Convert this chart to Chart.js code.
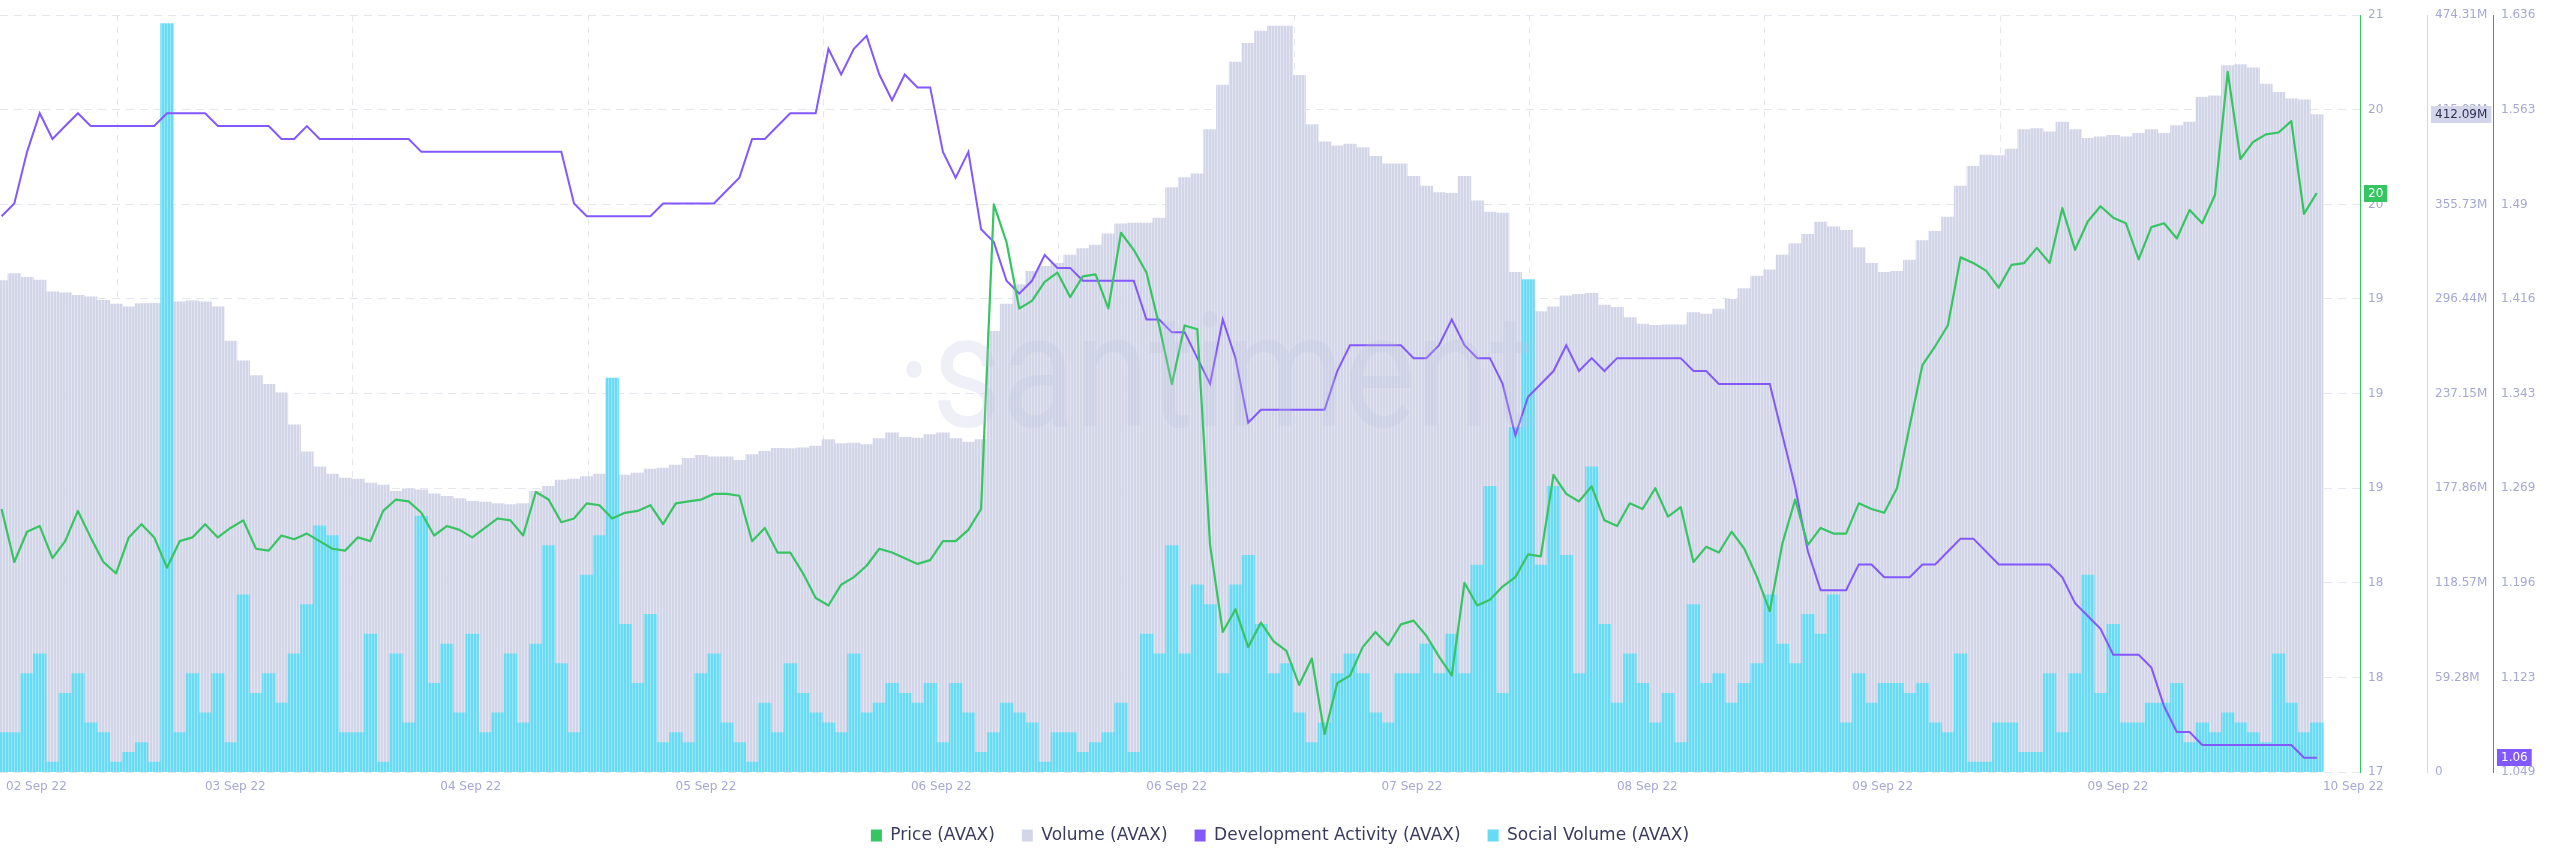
<!DOCTYPE html>
<html>
<head>
<meta charset="utf-8">
<script src="https://cdn.jsdelivr.net/npm/chart.js@4.4.1/dist/chart.umd.min.js"></script>
<style>
html,body{margin:0;padding:0;background:#ffffff;}
#wrap{width:2560px;height:867px;position:relative;}
</style>
</head>
<body>
<div id="wrap"><canvas id="c"></canvas></div>
<script>
// ---- Tick labels ----
const X_TICK_LABELS = ['02 Sep 22','03 Sep 22','04 Sep 22','05 Sep 22','06 Sep 22','06 Sep 22','07 Sep 22','08 Sep 22','09 Sep 22','09 Sep 22','10 Sep 22'];
const PRICE_TICK_LABELS = ['17','18','18','19','19','19','20','20','21'];
const VOLUME_TICK_LABELS = ['0','59.28M','118.57M','177.86M','237.15M','296.44M','355.73M','415.02M','474.31M'];
const DEV_TICK_LABELS = ['1.049','1.123','1.196','1.269','1.343','1.416','1.49','1.563','1.636'];

// ---- Series (hourly) ----
const PRICE = [18.39,18.11,18.27,18.30,18.13,18.22,18.38,18.24,18.11,18.05,
 18.24,18.31,18.24,18.08,18.22,18.24,18.31,18.24,18.29,18.33,
 18.18,18.17,18.25,18.23,18.26,18.22,18.18,18.17,18.24,18.22,
 18.38,18.44,18.43,18.37,18.25,18.30,18.28,18.24,18.29,18.34,
 18.33,18.25,18.48,18.44,18.32,18.34,18.42,18.41,18.34,18.37,
 18.38,18.41,18.31,18.42,18.43,18.44,18.47,18.47,18.46,18.22,
 18.29,18.16,18.16,18.05,17.92,17.88,17.99,18.03,18.09,18.18,
 18.16,18.13,18.10,18.12,18.22,18.22,18.28,18.39,20.00,19.80,
 19.45,19.49,19.59,19.64,19.51,19.62,19.63,19.45,19.85,19.76,
 19.64,19.36,19.05,19.36,19.34,18.20,17.74,17.86,17.66,17.79,
 17.69,17.64,17.46,17.60,17.20,17.47,17.51,17.66,17.74,17.67,
 17.78,17.80,17.72,17.61,17.51,18.00,17.88,17.91,17.98,18.03,
 18.15,18.14,18.57,18.47,18.43,18.51,18.33,18.30,18.42,18.39,
 18.50,18.35,18.40,18.11,18.19,18.16,18.27,18.18,18.03,17.85,
 18.21,18.44,18.20,18.29,18.26,18.26,18.42,18.39,18.37,18.50,
 18.83,19.15,19.25,19.36,19.72,19.69,19.65,19.56,19.68,19.69,
 19.77,19.69,19.98,19.76,19.91,19.99,19.93,19.90,19.71,19.88,
 19.90,19.82,19.97,19.90,20.05,20.70,20.24,20.33,20.37,20.38,
 20.44,19.95,20.06];

const VOLUME = [308.0,312.3,310.1,308.3,300.9,300.3,298.7,297.8,295.6,293.2,
 291.6,293.5,293.8,292.2,294.7,295.3,294.7,291.6,270.0,257.7,
 248.4,242.9,237.6,217.6,200.6,191.3,186.7,184.2,183.6,181.1,
 179.9,175.9,177.4,176.8,174.4,172.8,171.3,169.7,169.1,168.2,
 167.6,168.2,175.9,179.0,183.0,183.6,185.2,186.7,186.7,186.1,
 187.3,189.8,190.4,192.3,196.6,198.4,197.5,197.5,195.3,199.0,
 200.9,202.8,202.7,203.1,204.3,208.3,205.8,206.1,205.2,208.9,
 212.6,209.8,209.2,211.4,212.6,208.9,206.8,208.3,276.2,293.2,
 305.5,313.8,316.9,318.8,324.0,328.0,330.2,337.3,343.5,344.1,
 344.1,347.2,366.3,372.5,374.9,402.7,430.5,445.0,456.7,464.4,
 467.5,467.5,436.7,405.8,395.0,392.5,393.5,391.3,385.8,381.1,
 381.1,373.4,367.2,363.2,362.6,373.4,358.0,350.9,350.3,313.2,
 296.3,288.5,291.6,298.4,299.3,300.0,292.6,291.3,284.8,280.8,
 279.9,280.2,280.2,287.9,287.0,290.1,296.3,303.0,310.8,314.8,
 324.0,331.1,337.0,344.7,341.6,339.5,328.7,318.8,313.2,313.8,
 320.9,333.0,338.8,347.8,367.2,379.6,386.7,386.4,390.4,402.7,
 403.3,401.2,407.4,402.7,397.2,398.1,399.0,398.1,400.2,402.7,
 400.2,405.2,407.4,422.8,423.7,442.8,443.4,441.3,431.1,425.9,
 421.9,421.2,412.09];

const DEV_ACTIVITY = [1.48,1.49,1.53,1.56,1.54,1.55,1.56,1.55,1.55,1.55,
 1.55,1.55,1.55,1.56,1.56,1.56,1.56,1.55,1.55,1.55,
 1.55,1.55,1.54,1.54,1.55,1.54,1.54,1.54,1.54,1.54,
 1.54,1.54,1.54,1.53,1.53,1.53,1.53,1.53,1.53,1.53,
 1.53,1.53,1.53,1.53,1.53,1.49,1.48,1.48,1.48,1.48,
 1.48,1.48,1.49,1.49,1.49,1.49,1.49,1.50,1.51,1.54,
 1.54,1.55,1.56,1.56,1.56,1.61,1.59,1.61,1.62,1.59,
 1.57,1.59,1.58,1.58,1.53,1.51,1.53,1.47,1.46,1.43,
 1.42,1.43,1.45,1.44,1.44,1.43,1.43,1.43,1.43,1.43,
 1.40,1.40,1.39,1.39,1.37,1.35,1.40,1.37,1.32,1.33,
 1.33,1.33,1.33,1.33,1.33,1.36,1.38,1.38,1.38,1.38,
 1.38,1.37,1.37,1.38,1.40,1.38,1.37,1.37,1.35,1.31,
 1.34,1.35,1.36,1.38,1.36,1.37,1.36,1.37,1.37,1.37,
 1.37,1.37,1.37,1.36,1.36,1.35,1.35,1.35,1.35,1.35,
 1.31,1.27,1.22,1.19,1.19,1.19,1.21,1.21,1.20,1.20,
 1.20,1.21,1.21,1.22,1.23,1.23,1.22,1.21,1.21,1.21,
 1.21,1.21,1.20,1.18,1.17,1.16,1.14,1.14,1.14,1.13,
 1.10,1.08,1.08,1.07,1.07,1.07,1.07,1.07,1.07,1.07,
 1.07,1.06,1.06];

const SOCIAL_VOLUME = [4,4,10,12,1,8,10,5,4,1,
 2,3,1,76,4,10,6,10,3,18,
 8,10,7,12,17,25,24,4,4,14,
 1,12,5,26,9,13,6,14,4,6,
 12,5,13,23,11,4,20,24,40,15,
 9,16,3,4,3,10,12,5,3,1,
 7,4,11,8,6,5,4,12,6,7,
 9,8,7,9,3,9,6,2,4,7,
 6,5,1,4,4,2,3,4,7,2,
 14,12,23,12,19,17,10,19,22,15,
 10,11,6,3,5,10,12,10,6,5,
 10,10,13,10,14,10,21,29,8,35,
 50,21,29,22,10,31,15,7,12,9,
 5,8,3,17,9,10,7,9,11,18,
 13,11,16,14,18,5,10,7,9,9,
 8,9,5,4,12,1,1,5,5,2,
 2,10,4,10,20,8,15,5,5,7,
 7,9,3,5,4,6,5,4,3,12,
 7,4,5];

// ---- Axis ranges ----
const X_MIN = -0.125, X_MAX = 185.4, X_TICK_STEP = 18.5;
const PRICE_MIN = 17, PRICE_MAX = 21;
const VOL_MIN = 0, VOL_MAX = 474.31;
const DEV_MIN = 1.049, DEV_MAX = 1.636;
const SOCIAL_MAX = 76.85;

// ---- Styles ----
const FONT = "'DejaVu Sans', sans-serif";
const TICK_COLOR = '#a5a8d3';
const GRID_COLOR = '#e4e6f0';
const C_PRICE = '#37c463', C_VOL = '#d3d6e9', C_DEV = '#8358ff', C_SOC = '#68dbf4';
const LEGEND_COLORS = [C_PRICE, C_VOL, C_DEV, C_SOC];

const canvas = document.getElementById('c');
const ctx = canvas.getContext('2d');
function stripes(main, gap) {
  const c = document.createElement('canvas'); c.width = 3; c.height = 1;
  const g = c.getContext('2d');
  g.fillStyle = main; g.fillRect(0, 0, 2, 1);
  g.fillStyle = gap; g.fillRect(2, 0, 1, 1);
  return ctx.createPattern(c, 'repeat');
}
const volFill = stripes('#d2d5e8', '#e3e5f0');
const socFill = stripes('#68dbf4', '#9be5f7');

const pts = arr => arr.map((v, k) => ({x: k, y: v}));
const evenTicks = (min, max, n) => Array.from({length: n}, (_, j) => ({value: min + j * (max - min) / (n - 1)}));

const overlay = {
  id: 'overlay',
  afterDatasetsDraw(chart) {
    const {ctx, chartArea: a} = chart;
    ctx.save();
    ctx.beginPath(); ctx.rect(a.left, a.top, a.width, a.height); ctx.clip();
    ctx.fillStyle = 'rgba(188,192,220,0.24)';
    ctx.font = "400 160px Roboto, sans-serif";
    ctx.textAlign = 'center';
    ctx.textBaseline = 'alphabetic';
    const text = '\u00B7santiment';
    const w = ctx.measureText(text).width;
    const target = a.width * 0.27;
    ctx.translate(a.left + a.width * 0.515, a.top + a.height * 0.543);
    ctx.scale(target / w, 1);
    ctx.fillText(text, 0, 0);
    ctx.restore();
  },
  afterDraw(chart) {
    const {ctx, chartArea: a, scales} = chart;
    ctx.save();
    ctx.font = '12px ' + FONT;
    ctx.textBaseline = 'middle';
    ctx.textAlign = 'left';
    ctx.fillStyle = TICK_COLOR;
    X_TICK_LABELS.forEach((lab, j) => {
      const px = scales.x.getPixelForValue(X_MIN + j * X_TICK_STEP);
      const w = ctx.measureText(lab).width;
      ctx.fillText(lab, Math.max(px - w / 2, a.left + 6), a.bottom + 15);
    });
    const badge = (scale, value, text, bg, fg) => {
      const y = scale.getPixelForValue(value);
      const w = ctx.measureText(text).width + 8, h = 17;
      ctx.fillStyle = bg;
      ctx.fillRect(scale.left + 4, Math.round(y - h / 2), w, h);
      ctx.fillStyle = fg;
      ctx.fillText(text, scale.left + 8, Math.round(y - h / 2) + h / 2 + 0.5);
    };
    const lastP = PRICE[PRICE.length - 1];
    const lastV = VOLUME[VOLUME.length - 1];
    const lastD = DEV_ACTIVITY[DEV_ACTIVITY.length - 1];
    badge(scales.yPrice, lastP, String(Math.round(lastP)), C_PRICE, '#ffffff');
    badge(scales.yVol, lastV, lastV.toFixed(2) + 'M', '#d3d6ea', '#2e3050');
    badge(scales.yDev, lastD, lastD.toFixed(2), C_DEV, '#ffffff');
    ctx.restore();
  }
};

new Chart(ctx, {
  type: 'line',
  data: {
    datasets: [
      {label: 'Price (AVAX)', type: 'line', data: pts(PRICE), yAxisID: 'yPrice',
       borderColor: C_PRICE, backgroundColor: C_PRICE, borderWidth: 2.2, pointRadius: 0,
       tension: 0, borderJoinStyle: 'round', order: 0},
      {label: 'Volume (AVAX)', type: 'bar', data: pts(VOLUME), yAxisID: 'yVol',
       backgroundColor: volFill, borderWidth: 0, barPercentage: 1, categoryPercentage: 1,
       grouped: false, order: 3},
      {label: 'Development Activity (AVAX)', type: 'line', data: pts(DEV_ACTIVITY), yAxisID: 'yDev',
       borderColor: C_DEV, backgroundColor: C_DEV, borderWidth: 2, pointRadius: 0,
       tension: 0, order: 1},
      {label: 'Social Volume (AVAX)', type: 'bar', data: pts(SOCIAL_VOLUME), yAxisID: 'ySocial',
       backgroundColor: socFill, borderWidth: 0, barPercentage: 1, categoryPercentage: 1,
       grouped: false, order: 2}
    ]
  },
  options: {
    responsive: true,
    maintainAspectRatio: false,
    animation: false,
    devicePixelRatio: 1,
    layout: {padding: {left: 0, right: 0, top: 0, bottom: 13}},
    plugins: {
      tooltip: {enabled: false},
      legend: {
        position: 'bottom',
        align: 'center',
        labels: {
          boxWidth: 11, boxHeight: 12, padding: 27, color: '#3a3c5d',
          font: {family: FONT, size: 17},
          generateLabels: chart => chart.data.datasets.map((ds, i) => ({
            text: ds.label, fillStyle: LEGEND_COLORS[i], strokeStyle: LEGEND_COLORS[i],
            fontColor: '#3a3c5d', lineWidth: 0, hidden: false, datasetIndex: i
          }))
        }
      }
    },
    scales: {
      x: {
        type: 'linear', min: X_MIN, max: X_MAX, offset: false,
        afterBuildTicks: s => { s.ticks = X_TICK_LABELS.map((_, j) => ({value: X_MIN + j * X_TICK_STEP})); },
        ticks: {display: false},
        grid: {color: GRID_COLOR, drawTicks: false, lineWidth: 1},
        border: {display: false, dash: [6, 6]},
        afterFit: s => { s.height = 28; }
      },
      yPrice: {
        position: 'right', weight: 0, min: PRICE_MIN, max: PRICE_MAX,
        afterBuildTicks: s => { s.ticks = evenTicks(PRICE_MIN, PRICE_MAX, PRICE_TICK_LABELS.length); },
        ticks: {autoSkip: false, padding: 8, color: TICK_COLOR, font: {family: FONT, size: 12},
                callback: (v, i) => PRICE_TICK_LABELS[i]},
        grid: {color: GRID_COLOR, drawTicks: false},
        border: {display: true, color: C_PRICE, width: 1, dash: [8, 6]},
        afterFit: s => { s.width = 67; }
      },
      yVol: {
        position: 'right', weight: 1, min: VOL_MIN, max: VOL_MAX,
        afterBuildTicks: s => { s.ticks = evenTicks(VOL_MIN, VOL_MAX, VOLUME_TICK_LABELS.length); },
        ticks: {autoSkip: false, padding: 8, color: TICK_COLOR, font: {family: FONT, size: 12},
                callback: (v, i) => VOLUME_TICK_LABELS[i]},
        grid: {drawOnChartArea: false, drawTicks: false},
        border: {display: true, color: '#d3d6e9', width: 1},
        afterFit: s => { s.width = 66; }
      },
      yDev: {
        position: 'right', weight: 2, min: DEV_MIN, max: DEV_MAX,
        afterBuildTicks: s => { s.ticks = evenTicks(DEV_MIN, DEV_MAX, DEV_TICK_LABELS.length); },
        ticks: {autoSkip: false, padding: 8, color: TICK_COLOR, font: {family: FONT, size: 12},
                callback: (v, i) => DEV_TICK_LABELS[i]},
        grid: {drawOnChartArea: false, drawTicks: false},
        border: {display: true, color: C_DEV, width: 1},
        afterFit: s => { s.width = 67; }
      },
      ySocial: {
        display: false, min: 0, max: SOCIAL_MAX
      }
    }
  },
  plugins: [overlay]
});
</script>
</body>
</html>
